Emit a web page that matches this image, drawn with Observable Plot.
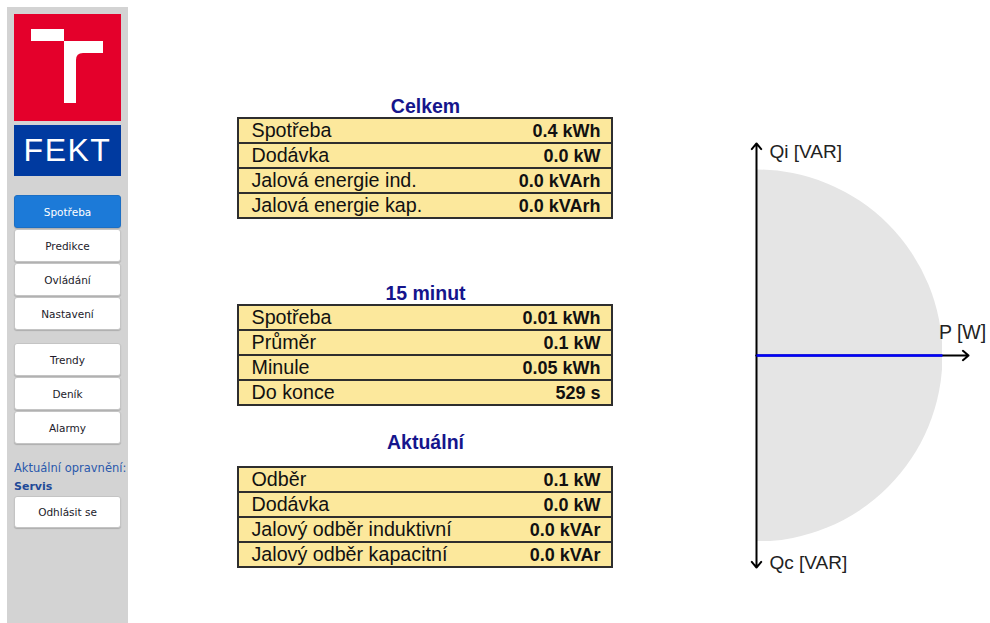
<!DOCTYPE html>
<html>
<head>
<meta charset="utf-8">
<script src="https://cdn.jsdelivr.net/npm/d3@7"></script>
<script src="https://cdn.jsdelivr.net/npm/@observablehq/plot@0.6"></script>
<style>
  html, body { margin: 0; padding: 0; background: #fff; }
  body { width: 990px; height: 623px; position: relative; overflow: hidden; font-family: 'Liberation Sans', Arial, sans-serif; }
  .abs { position: absolute; }
  #sidebar { left: 7px; top: 7px; width: 121px; height: 616px; background: #d3d3d3; }
  #logo { left: 14px; top: 14px; width: 107px; height: 107px; background: #e4002b; }
  #fekt { left: 14px; top: 125px; width: 107px; height: 51px; background: #003aa0; color: #fff;
          font-size: 32px; line-height: 51px; text-align: center; letter-spacing: 1.5px; }
  .btn { position: absolute; left: 14px; width: 107px; height: 33px; box-sizing: border-box; background: #fff;
         border: 1px solid #c4c4c4; border-radius: 3px; box-shadow: 0 1px 1px rgba(0,0,0,0.18);
         font-family: 'DejaVu Sans', Verdana, sans-serif; font-size: 10.5px; color: #221a2a;
         display: flex; align-items: center; justify-content: center; }
  .btn.active { background: #1c7ad8; border-color: #1c6fc4; color: #fff; }
  .note { position: absolute; left: 14px; font-family: 'DejaVu Sans', Verdana, sans-serif; font-size: 11.5px; color: #2a58ac; white-space: nowrap; }
  .ttl { position: absolute; left: 238px; width: 375px; text-align: center; font-weight: bold; font-size: 19.5px; color: #15158c; }
  .plotbox { position: absolute; }
  .plotbox svg { display: block; }
</style>
</head>
<body>
<div class="abs" id="sidebar"></div>
<div class="abs" id="logo">
  <svg width="107" height="107" viewBox="14 14 107 107" style="display:block">
    <rect x="31" y="29" width="33" height="12" fill="#fff"/>
    <rect x="64" y="41" width="39" height="12" fill="#fff"/>
    <rect x="64" y="41" width="12" height="62" fill="#fff"/>
    <path d="M76,53 H83 Q76,53 76,60 Z" fill="#fff"/>
  </svg>
</div>
<div class="abs" id="fekt">FEKT</div>
<div id="nav"></div>
<div class="note" style="top:461px;">Aktuální opravnění:</div>
<div class="note" style="top:480px;font-weight:bold;color:#1f4a98;font-size:11px;">Servis</div>

<div class="ttl" style="top:95px;">Celkem</div>
<div class="ttl" style="top:282px;">15 minut</div>
<div class="ttl" style="top:431px;">Aktuální</div>

<div class="plotbox" id="t1" style="left:237px;top:117px;"></div>
<div class="plotbox" id="t2" style="left:237px;top:304px;"></div>
<div class="plotbox" id="t3" style="left:237px;top:466px;"></div>
<div class="plotbox" id="pq" style="left:740px;top:130px;"></div>

<script>
// ---------- data ----------
const menuMain = ["Spotřeba", "Predikce", "Ovládání", "Nastavení"];
const menuTools = ["Trendy", "Deník", "Alarmy"];
const logoutLabel = "Odhlásit se";

const celkemLabels = ["Spotřeba", "Dodávka", "Jalová energie ind.", "Jalová energie kap."];
const celkemValues = ["0.4 kWh", "0.0 kW", "0.0 kVArh", "0.0 kVArh"];

const minutLabels = ["Spotřeba", "Průměr", "Minule", "Do konce"];
const minutValues = ["0.01 kWh", "0.1 kW", "0.05 kWh", "529 s"];

const aktualniLabels = ["Odběr", "Dodávka", "Jalový odběr induktivní", "Jalový odběr kapacitní"];
const aktualniValues = ["0.1 kW", "0.0 kW", "0.0 kVAr", "0.0 kVAr"];

// PQ diagram: current operating point (kW, kVAr) and circle radius (apparent power limit)
const pqPoint = [{p: 0.1, q: 0.0}];
const sLimit = 0.1;
const axisLabels = ["Qi [VAR]", "P [W]", "Qc [VAR]"];

// ---------- sidebar ----------
const nav = document.getElementById("nav");
function addBtn(label, top, h, active) {
  const b = document.createElement("div");
  b.className = "btn" + (active ? " active" : "");
  b.style.top = top + "px";
  b.style.height = h + "px";
  b.textContent = label;
  nav.appendChild(b);
}
menuMain.forEach((m, i) => addBtn(m, 195 + i * 34, 33, i === 0));
menuTools.forEach((m, i) => addBtn(m, 343 + i * 34, 33, false));
addBtn(logoutLabel, 496, 32, false);

// ---------- tables ----------
const font = "'Liberation Sans', Arial, sans-serif";
function makeTable(labels, values) {
  const rows = labels.map((label, i) => ({i, label, value: values[i]}));
  return Plot.plot({
    width: 376, height: 102, margin: 1,
    style: {fontFamily: font, background: "transparent", overflow: "visible"},
    y: {axis: null, domain: d3.range(rows.length), padding: 0},
    marks: [
      Plot.cell(rows, {y: "i", fill: "#fce89c", stroke: "#2e2e2e", strokeWidth: 2, inset: 0}),
      Plot.text(rows, {y: "i", text: "label", frameAnchor: "left", textAnchor: "start", dx: 13,
                       fontSize: 19.7, fill: "#111"}),
      Plot.text(rows, {y: "i", text: "value", frameAnchor: "right", textAnchor: "end", dx: -12,
                       fontSize: 18, fontWeight: "bold", fill: "#111"})
    ]
  });
}
document.getElementById("t1").appendChild(makeTable(celkemLabels, celkemValues));
document.getElementById("t2").appendChild(makeTable(minutLabels, minutValues));
document.getElementById("t3").appendChild(makeTable(aktualniLabels, aktualniValues));

// ---------- PQ diagram ----------
const reach = 1.14 * sLimit;
const axesData = [
  {x1: 0, y1: 0, x2: 0, y2: reach},
  {x1: 0, y1: 0, x2: reach, y2: 0},
  {x1: 0, y1: 0, x2: 0, y2: -reach}
];
const labelData = [
  {x: 0, y: reach, text: axisLabels[0]},
  {x: reach, y: 0, text: axisLabels[1]},
  {x: 0, y: -reach, text: axisLabels[2]}
];
const pq = Plot.plot({
  width: 250, height: 460,
  marginLeft: 16, marginRight: 48, marginTop: 39, marginBottom: 49,
  style: {fontFamily: font, background: "transparent", overflow: "visible"},
  x: {domain: [0, sLimit], axis: null},
  y: {domain: [-sLimit, sLimit], axis: null},
  r: {type: "linear", domain: [0, sLimit], range: [0, 186]},
  marks: [
    Plot.dot([{p: 0, q: 0, s: sLimit}], {x: "p", y: "q", r: "s", fill: "#e5e5e5", clip: "frame"}),
    Plot.arrow(axesData, {x1: "x1", y1: "y1", x2: "x2", y2: "y2", stroke: "#000", strokeWidth: 2,
                          headLength: 5.5, headAngle: 80}),
    Plot.link(pqPoint, {x1: () => 0, y1: () => 0, x2: "p", y2: "q", stroke: "#0000ff", strokeWidth: 2.5}),
    Plot.text([labelData[0]], {x: "x", y: "y", text: "text", textAnchor: "start", dx: 13, dy: 8, fontSize: 19, fill: "#222"}),
    Plot.text([labelData[1]], {x: "x", y: "y", text: "text", textAnchor: "middle", dx: -6, dy: -23, fontSize: 19.5, fill: "#222"}),
    Plot.text([labelData[2]], {x: "x", y: "y", text: "text", textAnchor: "start", dx: 13, dy: -5, fontSize: 19, fill: "#222"})
  ]
});
document.getElementById("pq").appendChild(pq);
</script>
</body>
</html>
